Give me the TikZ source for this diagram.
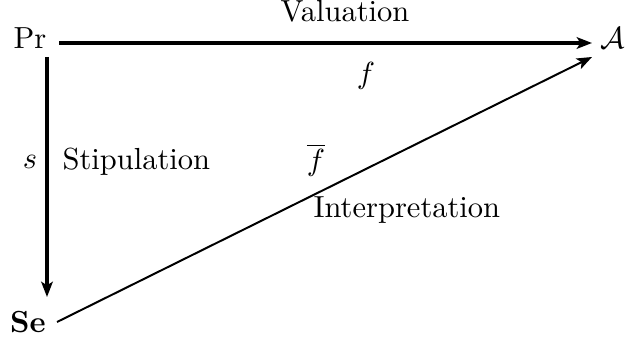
\documentclass[tikz,border=0pt]{standalone}
\usetikzlibrary{arrows.meta,calc}
\begin{document}
\begin{tikzpicture}[x=0.328pt,y=-0.328pt,
  obj/.style={inner sep=0pt,anchor=base},
  lbl/.style={inner sep=0pt},
  arr/.style={-{Stealth[length=5pt,width=3.8pt,inset=1.2pt]}}]
\useasboundingbox (0,0) rectangle (630,341);
\node[obj] (Pr) at (30,49) {Pr};
\node[obj] (A) at (613,49) {$\mathcal{A}$};
\node[obj] (Se) at (28,333) {\textbf{Se}};
\draw[arr,line width=1pt] ($(Pr.base)+(29,-6)$) -- ($(A.base)+(-21,-6)$);
\draw[arr,line width=1.3pt] ($(Pr.base)+(17,8)$) -- ($(Se.base)+(19,-36)$);
\draw[arr,line width=0.65pt] ($(Se.base)+(29,-11)$) -- ($(A.base)+(-21,8)$);
\node[lbl,anchor=base] (val) at (345,22) {Valuation};
\node[lbl] (f) at (366,76) {$f$};
\node[lbl] (s) at (30,162) {$s$};
\node[lbl,anchor=base west] (stip) at (62,170) {Stipulation};
\node[lbl] (fbar) at (316,160) {$\overline{f}$};
\node[lbl,anchor=base west] (interp) at (313,218) {Interpretation};
\end{tikzpicture}
\end{document}
